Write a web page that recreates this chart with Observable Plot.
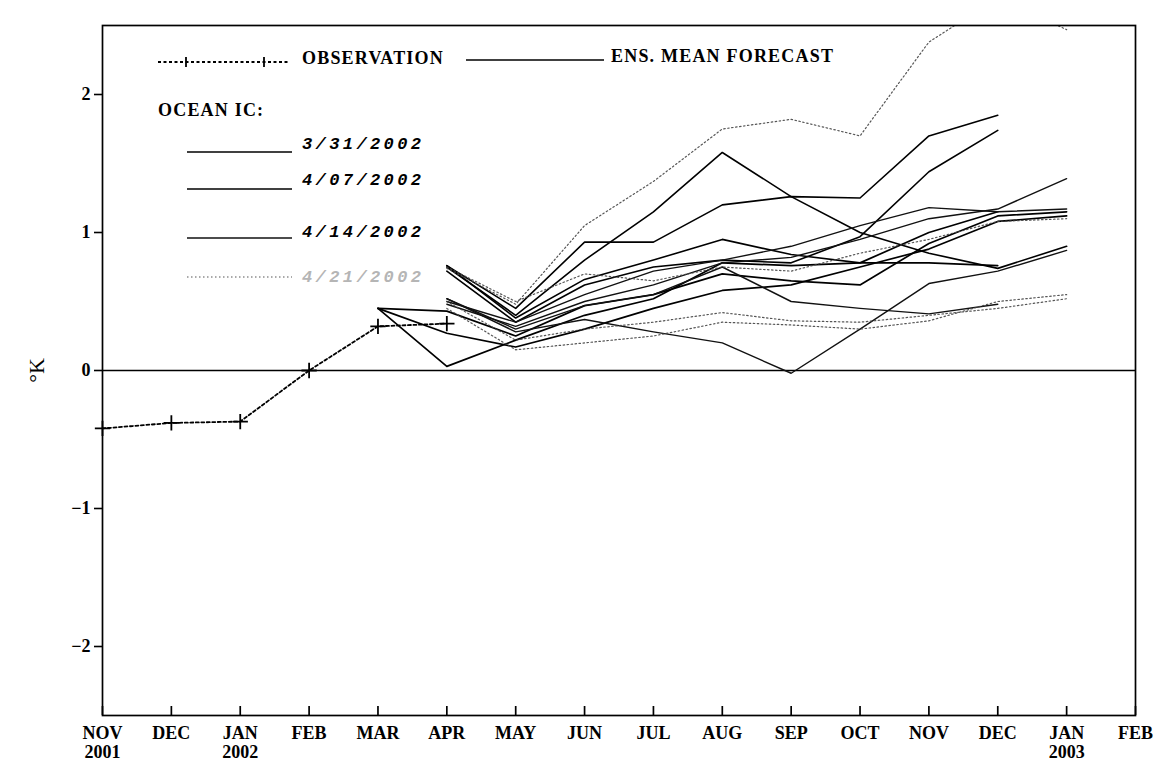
<!DOCTYPE html>
<html>
<head>
<meta charset="utf-8">
<script src="https://cdn.jsdelivr.net/npm/d3@7"></script>
<script src="https://cdn.jsdelivr.net/npm/@observablehq/plot@0.6"></script>
<style>
  html, body { margin: 0; padding: 0; background: #fff; }
  #wrap { position: relative; width: 1162px; height: 768px; overflow: hidden; }
  #legend { position: absolute; left: 0; top: 0; width: 1162px; height: 768px; pointer-events: none;
            font-family: "Liberation Serif", "DejaVu Serif", serif; font-weight: bold; color: #000; }
  .lt { position: absolute; font-size: 18px; letter-spacing: 1.2px; white-space: nowrap; }
  .ic { position: absolute; font-family: "Liberation Mono", "DejaVu Sans Mono", monospace; font-style: italic;
        font-weight: bold; font-size: 17px; letter-spacing: 3.4px; white-space: nowrap; }
  svg.sample { position: absolute; overflow: visible; }
</style>
</head>
<body>
<div id="wrap"><div id="legend"></div></div>
<script>
// ---- data ----
const monthNames = ["NOV","DEC","JAN","FEB","MAR","APR","MAY","JUN","JUL","AUG","SEP","OCT","NOV","DEC","JAN","FEB"];
const yearNames  = ["2001","","2002","","","","","","","","","","","","2003",""];
const yTicks = [-2, -1, 0, 1, 2];
const yDomain = [-2.5, 2.5];

const obsMonth = [0, 1, 2, 3, 4, 5];
const obsValue = [-0.42, -0.38, -0.37, 0.0, 0.32, 0.34];

const icLabels = ["3/31/2002", "4/07/2002", "4/14/2002", "4/21/2002"];

// forecast lines: ocean IC index, first month index, monthly values
const fcIC    = [0, 0, 0, 1, 1, 1, 1, 2, 2, 2, 2, 3, 3, 3, 3];
const fcStart = [4, 4, 4, 5, 5, 5, 5, 5, 5, 5, 5, 5, 5, 5, 5];
const fcValues = [
  [0.45, 0.03, 0.22, 0.40, 0.52, 0.78, 0.76, 0.78, 1.00, 1.15],
  [0.45, 0.43, 0.25, 0.47, 0.55, 0.70, 0.65, 0.62, 0.92, 1.12, 1.15],
  [0.45, 0.27, 0.17, 0.30, 0.45, 0.58, 0.62, 0.75, 0.88, 1.08, 1.12],
  [0.75, 0.40, 0.80, 1.15, 1.58, 1.26, 1.00, 0.85, 0.74, 0.90],
  [0.76, 0.45, 0.93, 0.93, 1.20, 1.26, 1.25, 1.70, 1.85],
  [0.72, 0.35, 0.62, 0.75, 0.80, 0.78, 0.97, 1.44, 1.74],
  [0.76, 0.38, 0.66, 0.80, 0.95, 0.84, 0.78, 0.78, 0.76],
  [0.52, 0.30, 0.47, 0.55, 0.75, 0.50, 0.45, 0.41, 0.48],
  [0.52, 0.28, 0.37, 0.28, 0.20, -0.02, 0.30, 0.63, 0.72, 0.87],
  [0.50, 0.35, 0.55, 0.72, 0.80, 0.90, 1.05, 1.18, 1.15, 1.17],
  [0.48, 0.32, 0.50, 0.62, 0.78, 0.82, 0.95, 1.10, 1.17, 1.39],
  [0.74, 0.48, 1.05, 1.37, 1.75, 1.82, 1.70, 2.38, 2.70, 2.47],
  [0.75, 0.50, 0.70, 0.65, 0.75, 0.72, 0.85, 0.95, 1.08, 1.10],
  [0.50, 0.22, 0.30, 0.35, 0.42, 0.36, 0.35, 0.40, 0.45, 0.52],
  [0.45, 0.15, 0.20, 0.25, 0.35, 0.33, 0.30, 0.36, 0.50, 0.55]
];

// ---- tables built from the arrays ----
const obsRows = obsMonth.map((m, i) => ({m, v: obsValue[i]}));
const fcRows = fcValues.flatMap((vals, k) =>
  vals.map((v, j) => ({id: k, ic: fcIC[k], m: fcStart[k] + j, v})));

const icStyle = [
  {stroke: "#000", strokeWidth: 1.7, strokeDasharray: null, strokeOpacity: 1},
  {stroke: "#000", strokeWidth: 1.6, strokeDasharray: null, strokeOpacity: 1},
  {stroke: "#111", strokeWidth: 1.4, strokeDasharray: null, strokeOpacity: 1},
  {stroke: "#444", strokeWidth: 1.2, strokeDasharray: "1.5,2.5", strokeOpacity: 0.9}
];

const fmtY = d => d < 0 ? "\u2212" + Math.abs(d) : String(d);
const fmtX = i => yearNames[i] ? monthNames[i] + "\n" + yearNames[i] : monthNames[i];
const monthTicks = d3.range(monthNames.length);

const chart = Plot.plot({
  width: 1162,
  height: 768,
  marginLeft: 102,
  marginRight: 27,
  marginTop: 25,
  marginBottom: 53,
  style: {fontFamily: "'Liberation Serif', 'DejaVu Serif', serif", fontWeight: "bold", fontSize: "18px", background: "#fff", color: "#000"},
  x: {domain: [0, 15]},
  y: {domain: yDomain},
  marks: [
    Plot.ruleY([0], {stroke: "#000", strokeWidth: 1.3}),
    ...icStyle.map((s, k) => Plot.line(fcRows.filter(d => d.ic === k), {
      x: "m", y: "v", z: "id", clip: true,
      stroke: s.stroke, strokeWidth: s.strokeWidth, strokeDasharray: s.strokeDasharray, strokeOpacity: s.strokeOpacity
    })),
    Plot.line(obsRows, {x: "m", y: "v", stroke: "#000", strokeWidth: 1.8, strokeDasharray: "3,2.5"}),
    Plot.dot(obsRows, {x: "m", y: "v", symbol: "plus", r: 5, stroke: "#000", strokeWidth: 1.8}),
    Plot.frame({stroke: "#000", strokeWidth: 1.7}),
    // inward tick marks standing on the bottom axis
    Plot.ruleX(monthTicks, {x: d => d, y1: yDomain[0], y2: yDomain[0], insetTop: -9, stroke: "#000", strokeWidth: 1.7}),
    // month / year labels
    Plot.axisX({ticks: monthTicks, tickFormat: fmtX, tickSize: 0, tickPadding: 10, label: null,
                fontSize: 18, fontWeight: "bold", lineHeight: 1.05}),
    Plot.axisY({ticks: yTicks, tickFormat: fmtY, tickSize: 8, tickPadding: 4, strokeWidth: 1.6,
                label: "\u00B0K", labelAnchor: "center", labelArrow: "none", labelOffset: 74,
                fontSize: 18, fontWeight: "bold"})
  ]
});
document.getElementById("wrap").prepend(chart);
// y-axis title: plain, a bit larger
chart.querySelectorAll("g[aria-label='y-axis label'] text").forEach(t => {
  t.setAttribute("font-size", 22); t.setAttribute("font-weight", "normal");
});

// ---- legend (inside the plot, top left) ----
const L = document.getElementById("legend");
function sample(x, y, w, st, plusAt) {
  const ns = "http://www.w3.org/2000/svg";
  const s = document.createElementNS(ns, "svg");
  s.setAttribute("class", "sample");
  s.setAttribute("width", w); s.setAttribute("height", 14);
  s.style.left = x + "px"; s.style.top = (y - 7) + "px";
  const ln = document.createElementNS(ns, "line");
  ln.setAttribute("x1", 0); ln.setAttribute("x2", w); ln.setAttribute("y1", 7); ln.setAttribute("y2", 7);
  ln.setAttribute("stroke", st.stroke); ln.setAttribute("stroke-width", st.strokeWidth);
  if (st.strokeDasharray) ln.setAttribute("stroke-dasharray", st.strokeDasharray);
  if (st.strokeOpacity != null) ln.setAttribute("stroke-opacity", st.strokeOpacity);
  s.appendChild(ln);
  (plusAt || []).forEach(px => {
    const p = document.createElementNS(ns, "path");
    p.setAttribute("d", `M${px},2V12`);
    p.setAttribute("stroke", "#000"); p.setAttribute("stroke-width", 1.8);
    s.appendChild(p);
  });
  L.appendChild(s);
}
function text(cls, x, y, t, color) {
  const d = document.createElement("div");
  d.className = cls; d.textContent = t;
  d.style.left = x + "px"; d.style.top = y + "px";
  if (color) d.style.color = color;
  L.appendChild(d);
}
sample(158, 62, 132, {stroke: "#000", strokeWidth: 1.8, strokeDasharray: "3,2.5"}, [28, 106]);
text("lt", 302, 48, "OBSERVATION");
sample(466, 60, 138, {stroke: "#000", strokeWidth: 1.6});
text("lt", 611, 46, "ENS. MEAN FORECAST");
text("lt", 158, 100, "OCEAN IC:");
const icY = [152, 189, 238, 277];
const icTextY = [135, 171, 223, 268];
icLabels.forEach((lab, k) => {
  sample(187, icY[k], 105, icStyle[k]);
  text("ic", 302, icTextY[k], lab, k === 3 ? "#b5b5b5" : "#000");
});
</script>
</body>
</html>
